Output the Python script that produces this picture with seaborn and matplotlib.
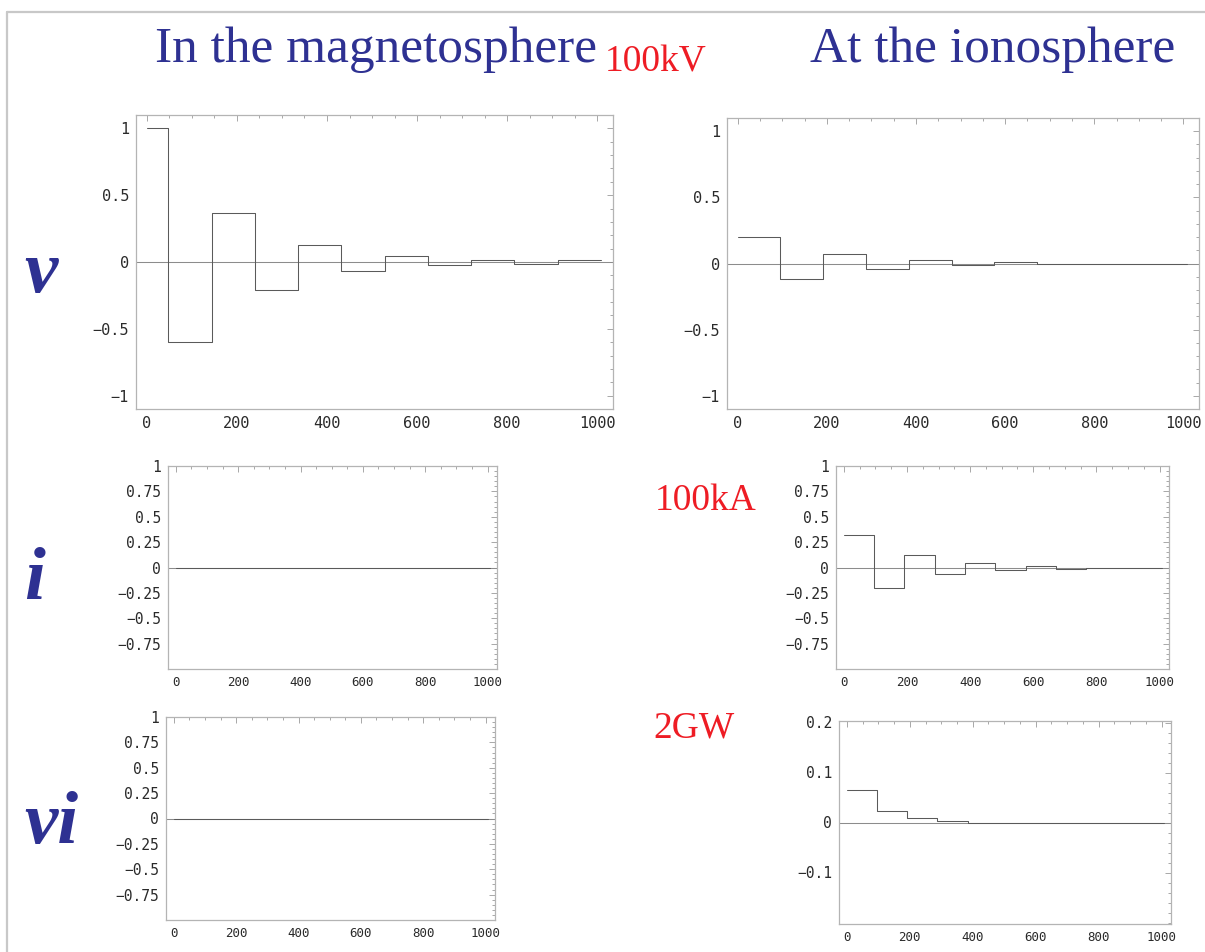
import numpy as np
import pandas as pd
import matplotlib
matplotlib.use("Agg")
import matplotlib.pyplot as plt
from matplotlib.ticker import MultipleLocator, FixedLocator
from matplotlib.lines import Line2D
import seaborn as sns

# ---- step-response data (time edges, level held until the next edge) ----
mag_v_t = [0, 48, 144, 240, 336, 432, 528, 624, 720, 816, 912, 1008]
mag_v = [1.0, -0.60, 0.366, -0.21, 0.13, -0.07, 0.045, -0.025, 0.015, -0.012, 0.012]

ion_v_t = [0, 96, 192, 288, 384, 480, 576, 672, 1008]
ion_v = [0.20, -0.115, 0.072, -0.043, 0.030, -0.013, 0.012, 0.0]

mag_i_t = [0, 1008]
mag_i = [0.0]

ion_i_t = [0, 96, 192, 288, 384, 480, 576, 672, 768, 1008]
ion_i = [0.32, -0.20, 0.122, -0.063, 0.043, -0.026, 0.016, -0.010, 0.0]

mag_vi_t = [0, 1008]
mag_vi = [0.0]

ion_vi_t = [0, 96, 192, 288, 384, 1008]
ion_vi = [0.065, 0.023, 0.0084, 0.0029, 0.0]

x_ticks = [0, 200, 400, 600, 800, 1000]
big_yticks = [-1, -0.5, 0, 0.5, 1]
big_ylabels = ["\u22121", "\u22120.5", "0", "0.5", "1"]
small_yticks = [-0.75, -0.5, -0.25, 0, 0.25, 0.5, 0.75, 1]
small_ylabels = ["\u22120.75", "\u22120.5", "\u22120.25", "0", "0.25", "0.5", "0.75", "1"]
pow_yticks = [-0.1, 0, 0.1, 0.2]
pow_ylabels = ["\u22120.1", "0", "0.1", "0.2"]

col_titles = ["In the magnetosphere", "At the ionosphere"]
row_labels = ["v", "i", "vi"]
unit_labels = ["100kV", "100kA", "2GW"]

# ---- styling ----
sns.set_style("white")
plt.rcParams["font.family"] = ["DejaVu Sans Mono", "DejaVu Sans"]

W, H = 1205, 952
BLUE = "#2e3192"
RED = "#ee1c24"
FRAME = "#b4b4b4"
LINE = "#5a5a5a"

fig = plt.figure(figsize=(W / 100, H / 100), dpi=100)
fig.patch.set_facecolor("white")


def px_axes(l, t, r, b):
    return fig.add_axes([l / W, 1 - b / H, (r - l) / W, (b - t) / H])


def draw_panel(ax, t, vals, ylim, yticks, ylabels, ymin_step, xfs, yfs, xlim):
    df = pd.DataFrame({"t": t, "value": list(vals) + [vals[-1]]})
    ax.axhline(0, color="#8c8c8c", lw=0.75, zorder=1)
    sns.lineplot(data=df, x="t", y="value", ax=ax, drawstyle="steps-post",
                 estimator=None, sort=False, color=LINE, lw=0.75, zorder=2)
    ax.set_xlim(*xlim)
    ax.set_ylim(*ylim)
    ax.set_xlabel("")
    ax.set_ylabel("")
    ax.xaxis.set_major_locator(FixedLocator(x_ticks))
    ax.set_xticklabels([str(v) for v in x_ticks])
    ax.xaxis.set_minor_locator(MultipleLocator(50))
    ax.yaxis.set_major_locator(FixedLocator(yticks))
    ax.set_yticklabels(ylabels)
    ax.yaxis.set_minor_locator(MultipleLocator(ymin_step))
    ax.tick_params(which="both", direction="in", top=True, right=True,
                   color="#9a9a9a", width=0.6)
    ax.tick_params(which="major", length=4, labelcolor="#2a2a2a", pad=5)
    ax.tick_params(axis="x", which="major", labelsize=xfs)
    ax.tick_params(axis="y", which="major", labelsize=yfs)
    ax.tick_params(which="minor", length=2)
    for s in ax.spines.values():
        s.set_color(FRAME)
        s.set_linewidth(0.9)


big_x = (-24, 1035)
small_x = (-25, 1030)

ax = px_axes(136, 115, 613, 409)
draw_panel(ax, mag_v_t, mag_v, (-1.1, 1.1), big_yticks, big_ylabels, 0.1, 11, 11, big_x)
ax = px_axes(727, 118, 1199, 409)
draw_panel(ax, ion_v_t, ion_v, (-1.1, 1.1), big_yticks, big_ylabels, 0.1, 11, 11, big_x)
ax = px_axes(168, 466, 497, 669)
draw_panel(ax, mag_i_t, mag_i, (-1, 1), small_yticks, small_ylabels, 0.05, 9, 10.5, small_x)
ax = px_axes(836, 466, 1169, 669)
draw_panel(ax, ion_i_t, ion_i, (-1, 1), small_yticks, small_ylabels, 0.05, 9, 10.5, small_x)
ax = px_axes(166, 717, 495, 920)
draw_panel(ax, mag_vi_t, mag_vi, (-1, 1), small_yticks, small_ylabels, 0.05, 9, 10.5, small_x)
ax = px_axes(839, 721, 1171, 924)
draw_panel(ax, ion_vi_t, ion_vi, (-0.203, 0.203), pow_yticks, pow_ylabels, 0.02, 9, 10.5, small_x)


def ftext(x, y, s, **kw):
    fig.text(x / W, 1 - y / H, s, va="baseline", ha="left", **kw)


serif = ["Liberation Serif", "DejaVu Serif"]
ftext(155, 62, col_titles[0], fontsize=37, color=BLUE, family=serif)
ftext(810, 62, col_titles[1], fontsize=37, color=BLUE, family=serif)

ftext(605, 72, unit_labels[0], fontsize=27, color=RED, family=serif)
ftext(655, 510, unit_labels[1], fontsize=27, color=RED, family=serif)
ftext(653, 738, unit_labels[2], fontsize=27, color=RED, family=serif)

row_y = [292, 599, 843]
for lab, yb in zip(row_labels, row_y):
    ftext(24, yb, lab, fontsize=54, color=BLUE, family=serif,
          fontweight="bold", fontstyle="italic")

# page frame along the top and left edges
fig.add_artist(Line2D([7 / W, 1.0], [1 - 12 / H, 1 - 12 / H], transform=fig.transFigure,
                      color="#c8c8c8", lw=1.6))
fig.add_artist(Line2D([7 / W, 7 / W], [0.0, 1 - 12 / H], transform=fig.transFigure,
                      color="#c8c8c8", lw=1.6))

fig.savefig("out.png", dpi=100, facecolor="white")
